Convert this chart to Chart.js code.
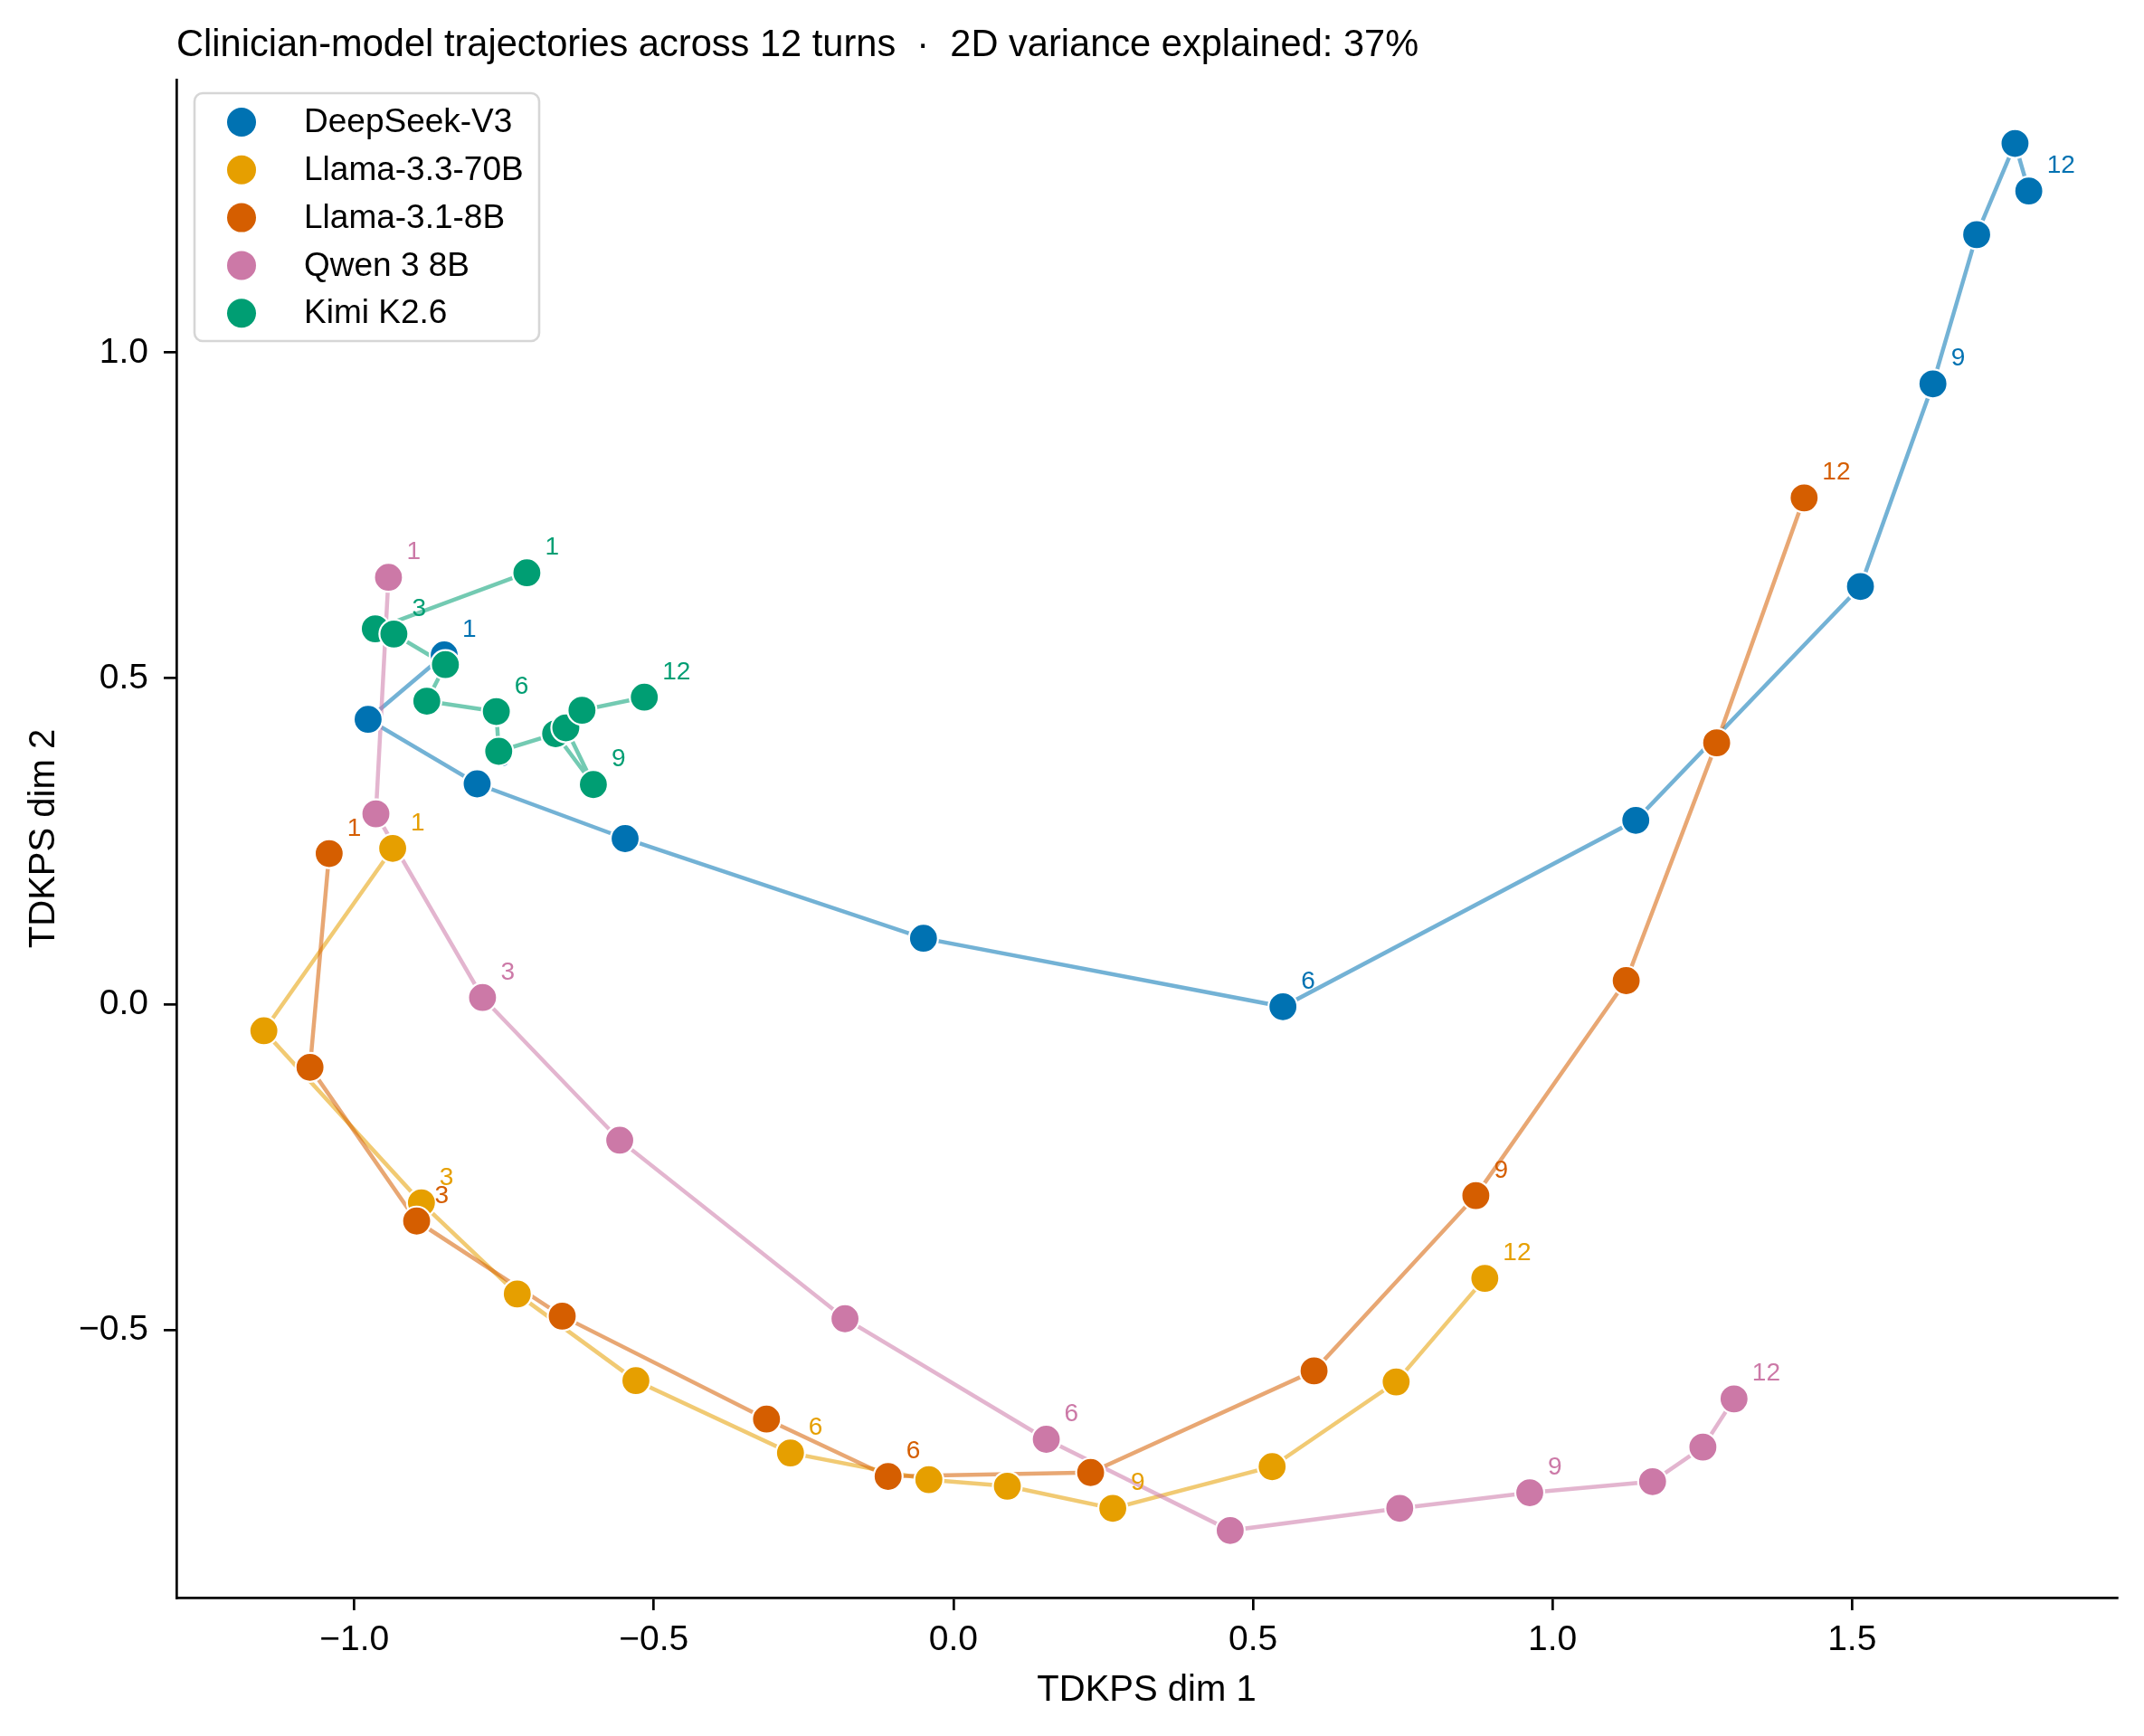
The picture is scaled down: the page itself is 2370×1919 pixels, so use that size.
<!DOCTYPE html>
<html>
<head>
<meta charset="utf-8">
<script src="https://cdn.jsdelivr.net/npm/chart.js@4.4.1/dist/chart.umd.min.js"></script>
<style>
  html, body { margin: 0; padding: 0; background: #fff; }
</style>
</head>
<body>
<canvas id="trajChart" width="2370" height="1919"></canvas>
<script>
/* ── Data ── */
const MODELS = ['DeepSeek-V3', 'Llama-3.3-70B', 'Llama-3.1-8B', 'Qwen 3 8B', 'Kimi K2.6'];
const COLORS = ['#0072B2', '#E69F00', '#D55E00', '#CC79A7', '#009E73'];
const LABELED_TURNS = [1, 3, 6, 9, 12];
const X_TICKS = [-1.0, -0.5, 0.0, 0.5, 1.0, 1.5];
const Y_TICKS = [-0.5, 0.0, 0.5, 1.0];

const deepseekX = [-0.850, -0.977, -0.795, -0.548, -0.050, 0.550, 1.139, 1.514, 1.635, 1.708, 1.772, 1.795];
const deepseekY = [ 0.536,  0.437,  0.338,  0.254,  0.101, -0.004, 0.282, 0.641, 0.952, 1.181, 1.321, 1.248];

const llama70X = [-0.936, -1.151, -0.888, -0.728, -0.530, -0.272, -0.041, 0.090, 0.266, 0.532, 0.739, 0.887];
const llama70Y = [ 0.239, -0.041, -0.305, -0.445, -0.578, -0.689, -0.730, -0.740, -0.774, -0.710, -0.580, -0.421];

const llama8X = [-1.042, -1.074, -0.896, -0.653, -0.312, -0.109, 0.229, 0.602, 0.872, 1.123, 1.274, 1.420];
const llama8Y = [ 0.231, -0.097, -0.333, -0.479, -0.637, -0.725, -0.719, -0.563, -0.294, 0.036, 0.401, 0.777];

const qwenX = [-0.943, -0.964, -0.786, -0.557, -0.181, 0.155, 0.462, 0.745, 0.962, 1.167, 1.251, 1.303];
const qwenY = [ 0.655,  0.292,  0.010, -0.209, -0.483, -0.668, -0.808, -0.774, -0.750, -0.733, -0.680, -0.606];

const kimiX = [-0.712, -0.965, -0.934, -0.848, -0.879, -0.763, -0.759, -0.664, -0.601, -0.647, -0.620, -0.516];
const kimiY = [ 0.662,  0.576,  0.568,  0.521,  0.465,  0.449,  0.388,  0.415,  0.337,  0.424,  0.451,  0.471];

const SERIES_X = [deepseekX, llama70X, llama8X, qwenX, kimiX];
const SERIES_Y = [deepseekY, llama70Y, llama8Y, qwenY, kimiY];

const FONT = '"Liberation Sans", Arial, Helvetica, sans-serif';

function hexToRgba(hex, a) {
  const n = parseInt(hex.slice(1), 16);
  return `rgba(${(n >> 16) & 255},${(n >> 8) & 255},${n & 255},${a})`;
}

/* ── Datasets: all lines first (behind), then points on top ── */
const datasets = [];
MODELS.forEach((name, i) => {
  const pts = SERIES_X[i].map((x, k) => ({ x, y: SERIES_Y[i][k] }));
  // points: later models sit on top (lower order = drawn last)
  datasets.push({
    label: name,
    data: pts,
    showLine: false,
    pointRadius: 16,
    pointHoverRadius: 16,
    pointBackgroundColor: COLORS[i],
    pointBorderColor: '#ffffff',
    pointBorderWidth: 2.2,
    order: 5 - i,
    modelIndex: i,
  });
  datasets.push({
    label: name + ' path',
    data: pts,
    showLine: true,
    borderColor: hexToRgba(COLORS[i], 0.55),
    borderWidth: 4.5,
    pointRadius: 0,
    pointHoverRadius: 0,
    fill: false,
    tension: 0,
    order: 20 - i,
  });
});

/* ── Decorations: turn labels, title, axis titles, legend ── */
const decor = {
  id: 'decor',
  // turn labels go right after each model's markers, so later models can cover them
  afterDatasetDraw(chart, args) {
    const ds = chart.data.datasets[args.index];
    if (ds.modelIndex === undefined) return;
    const i = ds.modelIndex;
    const { ctx, scales: { x, y } } = chart;
    ctx.save();
    ctx.font = `28px ${FONT}`;
    ctx.textAlign = 'left';
    ctx.textBaseline = 'alphabetic';
    ctx.fillStyle = COLORS[i];
    LABELED_TURNS.forEach(t => {
      const px = x.getPixelForValue(SERIES_X[i][t - 1]);
      const py = y.getPixelForValue(SERIES_Y[i][t - 1]);
      ctx.fillText(String(t), px + 20, py - 20);
    });
    ctx.restore();
  },
  afterDraw(chart) {
    const { ctx, chartArea: ca } = chart;
    ctx.save();
    ctx.fillStyle = '#000';

    // title, left-aligned with the axes
    ctx.font = `41.6px ${FONT}`;
    ctx.textAlign = 'left';
    ctx.textBaseline = 'alphabetic';
    ctx.fillText('Clinician-model trajectories across 12 turns  \u00b7  2D variance explained: 37%', ca.left, 62);

    // axis titles
    ctx.font = `40px ${FONT}`;
    ctx.textAlign = 'center';
    ctx.fillText('TDKPS dim 1', (ca.left + ca.right) / 2, 1880);
    ctx.save();
    ctx.translate(60, (ca.top + ca.bottom) / 2);
    ctx.rotate(-Math.PI / 2);
    ctx.fillText('TDKPS dim 2', 0, 0);
    ctx.restore();

    // legend box
    const bx = 215, by = 103, bw = 381, bh = 274, r = 9;
    ctx.beginPath();
    ctx.moveTo(bx + r, by);
    ctx.arcTo(bx + bw, by, bx + bw, by + bh, r);
    ctx.arcTo(bx + bw, by + bh, bx, by + bh, r);
    ctx.arcTo(bx, by + bh, bx, by, r);
    ctx.arcTo(bx, by, bx + bw, by, r);
    ctx.closePath();
    ctx.fillStyle = 'rgba(255,255,255,0.8)';
    ctx.fill();
    ctx.lineWidth = 2.6;
    ctx.strokeStyle = '#d6d6d6';
    ctx.stroke();

    ctx.font = `37px ${FONT}`;
    ctx.textAlign = 'left';
    ctx.textBaseline = 'middle';
    MODELS.forEach((name, i) => {
      const ry = 135 + i * 52.8;
      ctx.beginPath();
      ctx.arc(267, ry, 16, 0, Math.PI * 2);
      ctx.fillStyle = COLORS[i];
      ctx.fill();
      ctx.fillStyle = '#000';
      ctx.fillText(name, 336, ry + 1);
    });
    ctx.restore();
  },
};

const tickFmt = v => v.toFixed(1).replace('-', '\u2212');

const axisCommon = {
  type: 'linear',
  grid: {
    display: true,
    drawOnChartArea: false,
    drawTicks: true,
    tickLength: 14,
    tickWidth: 2.7,
    tickColor: '#000',
    lineWidth: 2.7,
  },
  border: { display: true, color: '#000', width: 2.7 },
};

new Chart(document.getElementById('trajChart').getContext('2d'), {
  type: 'scatter',
  data: { datasets },
  plugins: [decor],
  options: {
    responsive: false,
    animation: false,
    events: [],
    layout: { padding: { left: 0, top: 88, right: 30, bottom: 0 } },
    plugins: {
      legend: { display: false },
      tooltip: { enabled: false },
      title: { display: false },
    },
    scales: {
      x: {
        ...axisCommon,
        position: 'bottom',
        min: -1.297,
        max: 1.942,
        afterBuildTicks: s => { s.ticks = X_TICKS.map(v => ({ value: v })); },
        afterFit: s => { s.height = 1919 - 1766; },
        ticks: {
          font: { family: FONT, size: 39 },
          color: '#000',
          padding: 10,
          maxRotation: 0,
          autoSkip: false,
          callback: tickFmt,
        },
      },
      y: {
        ...axisCommon,
        position: 'left',
        min: -0.911,
        max: 1.419,
        afterBuildTicks: s => { s.ticks = Y_TICKS.map(v => ({ value: v })); },
        afterFit: s => { s.width = 195; },
        ticks: {
          font: { family: FONT, size: 39 },
          color: '#000',
          padding: 17,
          autoSkip: false,
          callback: tickFmt,
        },
      },
    },
  },
});
</script>
</body>
</html>
